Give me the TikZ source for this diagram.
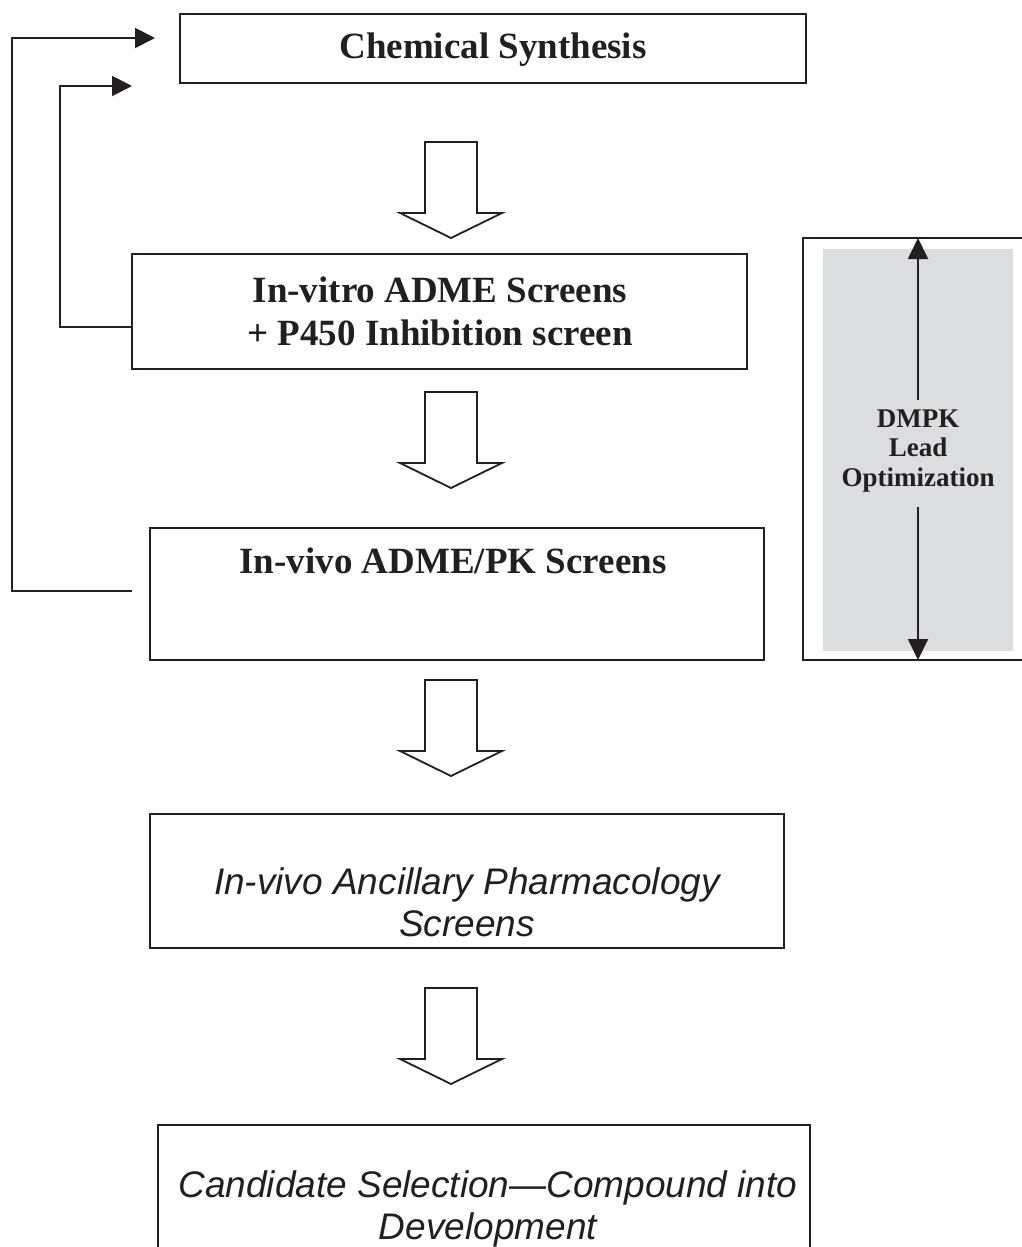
\documentclass[tikz,border=0pt]{standalone}
\usepackage{fontspec}
\setmainfont{Liberation Serif}
\newfontfamily\helv{Liberation Sans}
\usetikzlibrary{arrows.meta}
\definecolor{panelgray}{HTML}{DCDDDF}
\definecolor{ink}{HTML}{231F20}
\tikzset{
  boxline/.style={draw=ink, line width=2pt},
  blockarrow/.style={draw=ink, line width=1.8pt, fill=white, line join=miter},
  fb/.style={draw=ink, line width=2pt, -{Triangle[length=20pt,width=20pt]}},
  dm/.style={draw=ink, line width=1.8pt, -{Triangle[length=21pt,width=20pt]}},
  boldtxt/.style={font=\fontsize{37}{43}\selectfont\bfseries, align=center, inner sep=0pt, text=ink},
  itxt/.style={font=\helv\itshape\fontsize{37}{42}\selectfont, align=center, inner sep=0pt, text=ink},
  dmtxt/.style={font=\fontsize{27}{29.5}\selectfont\bfseries, align=center, inner sep=0pt, text=ink},
}
\begin{document}
\begin{tikzpicture}[x=1pt,y=-1pt]
\clip (0,0) rectangle (1022,1247);
\fill[white] (0,0) rectangle (1022,1247);

% boxes
\draw[boxline] (180,14) rectangle (806,83);
\node[inner sep=0pt, minimum width=626pt, minimum height=69pt] (chem) at (493,48.5) {};
\node[boldtxt] (chemt) at (493,50) {Chemical Synthesis};

\node[boxline, inner sep=0pt, minimum width=615pt, minimum height=115pt] (vitro) at (439.5,311.5) {};
\node[boldtxt] (vitrot) at (440,311) {In-vitro ADME Screens\\+ P450 Inhibition screen};

\node[boxline, inner sep=0pt, minimum width=614pt, minimum height=132pt] (vivo) at (457,594) {};
\node[boldtxt] (vivot) at (453,561) {In-vivo ADME/PK Screens};

\node[boxline, inner sep=0pt, minimum width=634pt, minimum height=134pt] (anc) at (467,881) {};
\node[itxt] (anct) at (467,902) {In-vivo Ancillary Pharmacology\\Screens};

\draw[boxline] (158,1260) -- (158,1125) -- (810,1125) -- (810,1260);
\coordinate (cand) at (484,1125);
\node[itxt] (candt) at (488,1209) {Candidate Selection—Compound into\\Development};

% block arrows
\foreach \yy in {142,392,680,988}{
  \draw[blockarrow, shift={(451,\yy)}] (-26,0) -- (26,0) -- (26,71) -- (51,71) -- (0,96) -- (-51,71) -- (-26,71) -- cycle;
}

% feedback connectors
\coordinate (fbA) at (132,327);
\coordinate (fbAend) at (132,86);
\coordinate (fbB) at (132,591);
\coordinate (fbBend) at (155,38);
\draw[fb] (fbA) -- (60,327) -- (60,86) -- (fbAend);
\draw[fb] (fbB) -- (12,591) -- (12,38) -- (fbBend);

% DMPK panel
\draw[boxline] (1030,238) -- (803,238) -- (803,660) -- (1030,660);
\fill[panelgray] (823,249) rectangle (1013,651);
\node[dmtxt] (dmpk) at (918,451) {DMPK\\Lead\\Optimization};
\coordinate (dmtop) at (918,238);
\coordinate (dmbot) at (918,660);
\coordinate (dmup) at (918,400);
\coordinate (dmdn) at (918,507);
\draw[dm] (dmup) -- (dmtop);
\draw[dm] (dmdn) -- (dmbot);
\end{tikzpicture}
\end{document}
